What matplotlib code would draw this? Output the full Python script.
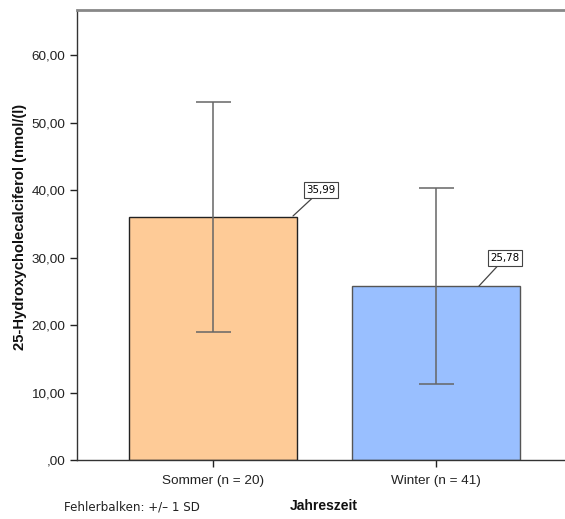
import matplotlib
matplotlib.use("Agg")
import matplotlib.pyplot as plt

categories = ["Sommer (n = 20)", "Winter (n = 41)"]
means = [35.99, 25.78]
sds = [17.1, 14.5]
value_labels = ["35,99", "25,78"]
bar_colors = ["#FECB97", "#99BFFF"]
yticks = [0, 10, 20, 30, 40, 50, 60]
ytick_labels = [",00", "10,00", "20,00", "30,00", "40,00", "50,00", "60,00"]

W, H = 565, 519
fig = plt.figure(figsize=(W / 100, H / 100), dpi=100)
left, right, top, bottom = 77, 572, 10, 460
ax = fig.add_axes([left / W, 1 - bottom / H, (right - left) / W, (bottom - top) / H])

x = [0, 1]
edge_colors = ["#222222", "#555555"]
ax.bar(x, means, width=0.753, color=bar_colors, edgecolor=edge_colors, linewidth=1.0, zorder=2)
ax.errorbar(x, means, yerr=sds, fmt="none", ecolor="#666666", elinewidth=1.1,
            capsize=17.5 * 0.72, capthick=1.1, zorder=3)

ax.set_xlim(-0.61, 1.61)
ax.set_ylim(0, 66.67)
ax.set_yticks(yticks)
ax.set_yticklabels(ytick_labels)
ax.set_xticks(x)
ax.set_xticklabels(categories)

fam = ["Liberation Sans", "DejaVu Sans"]
ax.tick_params(axis="both", labelsize=9.7, colors="#222222", length=5, width=1.0)
ax.tick_params(axis="x", pad=5.5)
for lab in ax.get_xticklabels() + ax.get_yticklabels():
    lab.set_family(fam)

for s in ["left", "bottom"]:
    ax.spines[s].set_color("#333333")
    ax.spines[s].set_linewidth(1.0)
ax.spines["top"].set_color("#888888")
ax.spines["top"].set_linewidth(2.0)
ax.spines["right"].set_visible(False)

label_pos = [(321, 190), (505, 258)]
anchor_pos = [(293, 216), (479, 286)]
inv = ax.transData.inverted()
for i in range(2):
    lx, ly = label_pos[i]
    axx, axy = anchor_pos[i]
    tx, ty = inv.transform((lx, H - ly))
    sx, sy = inv.transform((axx, H - axy))
    ax.annotate(value_labels[i], xy=(sx, sy), xytext=(tx, ty),
                ha="center", va="center", fontsize=7.4, family=["DejaVu Sans"],
                bbox=dict(boxstyle="square,pad=0.25", fc="white", ec="#444444", lw=0.8),
                arrowprops=dict(arrowstyle="-", color="#444444", lw=0.9,
                                shrinkA=0, shrinkB=0), zorder=5)

fig.text(20 / W, 1 - 227 / H, "25-Hydroxycholecalciferol (nmol/(l)", rotation=90,
         ha="center", va="center", fontsize=10.6, fontweight="bold", family=fam, color="#111111")
fig.text(324 / W, 1 - 506 / H, "Jahreszeit", ha="center", va="center",
         fontsize=10.0, fontweight="bold", family=fam, color="#111111")
fig.text(64 / W, 1 - 507 / H, "Fehlerbalken: +/\u2013 1 SD", ha="left", va="center",
         fontsize=8.6, family=["DejaVu Sans"], color="#222222")

fig.savefig("out.png", dpi=100)
